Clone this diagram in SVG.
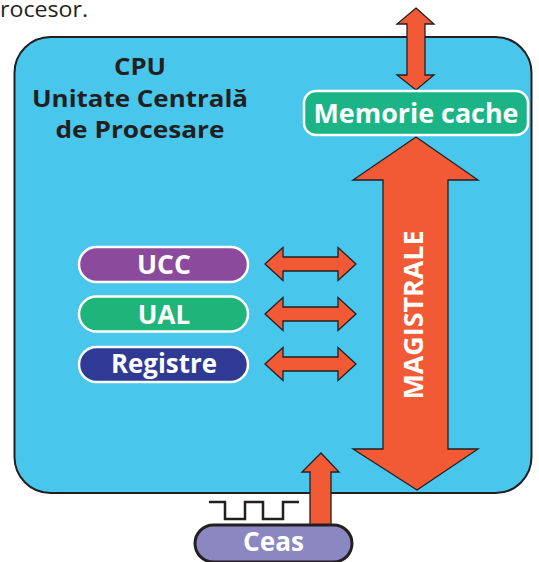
<svg xmlns="http://www.w3.org/2000/svg" width="539" height="562" viewBox="0 0 539 562">
<style>
.t{font-family:"Open Sans","Liberation Sans",sans-serif;font-weight:bold;}
.w{fill:#ffffff;text-anchor:middle;}
.arr{fill:#f15a35;stroke:#231f20;stroke-width:1.3;stroke-linejoin:miter;}
.pill{stroke:#ffffff;stroke-width:2.5;}
</style>
<rect width="539" height="562" fill="#ffffff"/>
<text x="0" y="17" font-family="Open Sans, Liberation Sans, sans-serif" font-size="22" fill="#231f20" textLength="88" lengthAdjust="spacingAndGlyphs">rocesor.</text>
<g id="cpu">
<rect x="14.5" y="37" width="517" height="456" rx="36" ry="36" fill="#48c6ec" stroke="#231f20" stroke-width="2"/>
<text class="t" x="140" y="75" font-size="24" fill="#231f20" text-anchor="middle" textLength="52" lengthAdjust="spacingAndGlyphs">CPU</text>
<text class="t" x="140" y="107" font-size="24" fill="#231f20" text-anchor="middle" textLength="216" lengthAdjust="spacingAndGlyphs">Unitate Centrală</text>
<text class="t" x="140" y="138" font-size="24" fill="#231f20" text-anchor="middle" textLength="169" lengthAdjust="spacingAndGlyphs">de Procesare</text>
</g>
<g id="connectors">
<polygon class="arr" points="416,8 434,24 425,24 425,75 434,75 416,90 397,75 407,75 407,24 397,24"/>
<polygon class="arr" points="416,137 478,180 448,180 448,449 478,449 417,490 353,449 383,449 383,180 353,180"/>
<polygon class="arr" points="265,264 283,247.5 283,257 338,257 338,247.5 356,264 338,280.5 338,271 283,271 283,280.5"/>
<polygon class="arr" points="265,314 283,297.5 283,307 338,307 338,297.5 356,314 338,330.5 338,321 283,321 283,330.5"/>
<polygon class="arr" points="265,364 283,347.5 283,357 338,357 338,347.5 356,364 338,380.5 338,371 283,371 283,380.5"/>
<polygon class="arr" points="321,453 339,472 331,472 331,525 310,525 310,472 302,472"/>
</g>
<g id="magistrale">
<text class="t w" transform="translate(423,315) rotate(-90)" font-size="27" textLength="169" lengthAdjust="spacingAndGlyphs">MAGISTRALE</text>
</g>
<g id="cache">
<rect class="pill" x="304" y="91" width="224" height="44" rx="12" fill="#1bb486" stroke-width="1.5"/>
<text class="t w" x="416" y="123" font-size="26" textLength="205" lengthAdjust="spacingAndGlyphs">Memorie cache</text>
</g>
<g id="ucc">
<rect class="pill" x="79" y="247" width="169" height="35" rx="17.5" fill="#8b4a9c"/>
<text class="t w" x="164" y="274" font-size="26" textLength="54" lengthAdjust="spacingAndGlyphs">UCC</text>
</g>
<g id="ual">
<rect class="pill" x="79" y="296.5" width="169" height="35" rx="17.5" fill="#1fb57a"/>
<text class="t w" x="164" y="323.5" font-size="26">UAL</text>
</g>
<g id="registre">
<rect class="pill" x="79" y="347" width="169" height="35" rx="17.5" fill="#2e3a93"/>
<text class="t w" x="164" y="373" font-size="26" textLength="106" lengthAdjust="spacingAndGlyphs">Registre</text>
</g>
<g id="ceas">
<polyline points="209,502 225,502 225,519 245,519 245,502 263,502 263,519 283,519 283,502 299,502" fill="none" stroke="#231f20" stroke-width="2.5"/>
<rect x="195" y="525" width="157" height="37" rx="18.5" fill="#8a87c1" stroke="#231f20" stroke-width="3"/>
<text class="t w" x="273.5" y="551" font-size="27" textLength="61" lengthAdjust="spacingAndGlyphs">Ceas</text>
</g>
</svg>
